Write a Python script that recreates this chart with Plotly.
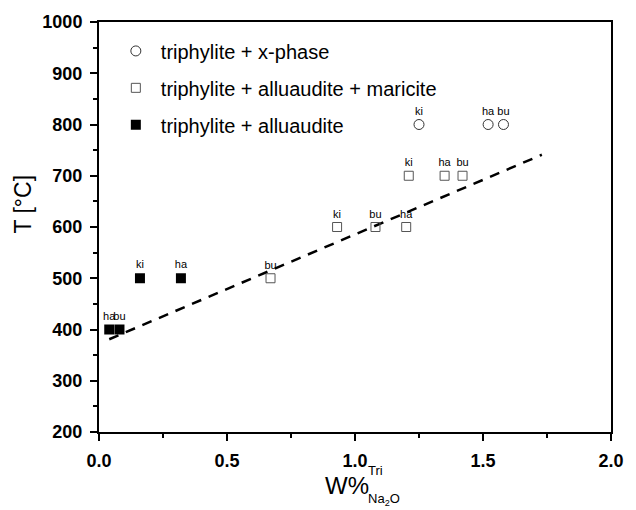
import plotly.graph_objects as go

# --- data ---
xphase_x = [1.25, 1.52, 1.58]
xphase_y = [800, 800, 800]
xphase_lbl = ["ki", "ha", "bu"]

tam_x = [0.67, 0.93, 1.08, 1.20, 1.21, 1.35, 1.42]
tam_y = [500, 600, 600, 600, 700, 700, 700]
tam_lbl = ["bu", "ki", "bu", "ha", "ki", "ha", "bu"]

ta_x = [0.04, 0.08, 0.16, 0.32]
ta_y = [400, 400, 500, 500]
ta_lbl = ["ha", "bu", "ki", "ha"]

fit_x = [0.04, 1.73]
fit_y = [381, 741]

series_names = ["triphylite + x-phase",
                "triphylite + alluaudite + maricite",
                "triphylite + alluaudite"]

x_ticks = [0.0, 0.5, 1.0, 1.5, 2.0]
x_ticklabels = ["0.0", "0.5", "1.0", "1.5", "2.0"]
y_ticks = [200, 300, 400, 500, 600, 700, 800, 900, 1000]
y_ticklabels = [str(v) for v in y_ticks]

FONT = "Liberation Sans, Arial, sans-serif"

fig = go.Figure()

fig.add_trace(go.Scatter(
    x=fit_x, y=fit_y, mode="lines",
    line=dict(color="black", width=2.5, dash="10px,8px"),
    showlegend=False, hoverinfo="skip"))

fig.add_trace(go.Scatter(
    x=xphase_x, y=xphase_y, mode="markers+text", text=xphase_lbl,
    textposition="top center", textfont=dict(family=FONT, size=11, color="black"),
    marker=dict(symbol="circle-open", size=10, color="#333", line=dict(width=1)),
    name=series_names[0], legend="legend"))

fig.add_trace(go.Scatter(
    x=tam_x, y=tam_y, mode="markers+text", text=tam_lbl,
    textposition="top center", textfont=dict(family=FONT, size=11, color="black"),
    marker=dict(symbol="square-open", size=9, color="#555", line=dict(width=1)),
    name=series_names[1], legend="legend2"))

fig.add_trace(go.Scatter(
    x=ta_x, y=ta_y, mode="markers+text", text=ta_lbl,
    textposition="top center", textfont=dict(family=FONT, size=11, color="black"),
    marker=dict(symbol="square", size=10, color="black"),
    name=series_names[2], legend="legend3"))

leg_common = dict(font=dict(family=FONT, size=20, color="black"),
                  bgcolor="rgba(0,0,0,0)", xanchor="left", yanchor="middle",
                  itemwidth=40,
                  itemclick=False, itemdoubleclick=False)

def py(pix):
    # convert pixel y to paper coords (plot area 21..432)
    return (432 - pix) / (432 - 21)

def px(pix):
    return (pix - 99) / (618 - 99)

fig.update_layout(
    legend=dict(x=px(111), y=py(50), **leg_common),
    legend2=dict(x=px(111), y=py(87), **leg_common),
    legend3=dict(x=px(111), y=py(124), **leg_common),
)

fig.update_xaxes(
    range=[0, 2.0], tickvals=x_ticks, ticktext=["<b>%s</b>" % t for t in x_ticklabels],
    showline=True, linecolor="black", linewidth=2, mirror=True,
    ticks="outside", ticklen=7, tickwidth=2, tickcolor="black",
    minor=dict(dtick=0.25, ticks="outside", ticklen=4, tickwidth=2, tickcolor="black"),
    showgrid=False, zeroline=False, ticklabelstandoff=4,
    tickfont=dict(family=FONT, size=18, color="black"),
)
fig.update_yaxes(
    range=[200, 1000], tickvals=y_ticks, ticktext=["<b>%s</b>" % t for t in y_ticklabels],
    showline=True, linecolor="black", linewidth=2, mirror=True,
    ticks="outside", ticklen=7, tickwidth=2, tickcolor="black",
    minor=dict(dtick=50, ticks="outside", ticklen=4, tickwidth=2, tickcolor="black"),
    showgrid=False, zeroline=False, ticklabelstandoff=4,
    tickfont=dict(family=FONT, size=18, color="black"),
)

fig.add_annotation(text="T [°C]", xref="paper", yref="paper", x=px(22), y=py(204),
                   showarrow=False, textangle=-90,
                   font=dict(family=FONT, size=23, color="black"),
                   xanchor="center", yanchor="middle")
fig.add_annotation(text="W%", xref="paper", yref="paper", x=px(350), y=py(486),
                   showarrow=False, font=dict(family=FONT, size=24, color="black"),
                   xanchor="center", yanchor="middle")
fig.add_annotation(text="Tri", xref="paper", yref="paper", x=px(370), y=py(471),
                   showarrow=False, font=dict(family=FONT, size=13, color="black"),
                   xanchor="left", yanchor="middle")
fig.add_annotation(text="Na<sub>2</sub>O", xref="paper", yref="paper", x=px(370), y=py(500),
                   showarrow=False, font=dict(family=FONT, size=13, color="black"),
                   xanchor="left", yanchor="middle")

fig.update_layout(
    width=636, height=510,
    margin=dict(l=99, r=18, t=21, b=78),
    plot_bgcolor="white", paper_bgcolor="white",
    font=dict(family=FONT, color="black"),
)

fig.write_html("out.html")
